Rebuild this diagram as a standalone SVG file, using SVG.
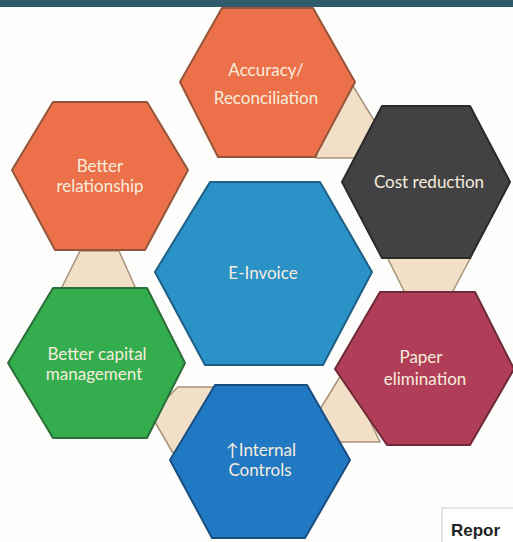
<svg xmlns="http://www.w3.org/2000/svg" width="513" height="542" viewBox="0 0 513 542">
<style>
.bg{fill:#fdfdfb}
.hex{stroke-width:2;stroke-linejoin:round}
.orange{fill:#ec714a;stroke:#95553a}
.gray{fill:#424244;stroke:#2a2a2a}
.cblue{fill:#2b92c8;stroke:#1d5f86}
.green{fill:#34ad4f;stroke:#2b6e3a}
.maroon{fill:#b03e58;stroke:#6e2a38}
.blue{fill:#2179c4;stroke:#194f80}
.conn{fill:#f1dfc7;stroke:#a8927a;stroke-width:1.5;stroke-linejoin:round}
.lbl{font-family:Lato,"Open Sans","Liberation Sans",sans-serif;font-size:17px;fill:#f6eddc;text-anchor:middle}
.rep{font-family:"Liberation Sans",Arial,sans-serif;font-size:17px;font-weight:bold;fill:#222}
</style>
<rect class="bg" x="0" y="0" width="513" height="542"/>
<rect x="0" y="0" width="513" height="7" fill="#2f5c6d"/>
<g id="connectors">
<polygon class="conn" points="330,100 353,86 375,122 356,158 316,158"/>
<polygon class="conn" points="386,255 472,255 452,293 405,293"/>
<polygon class="conn" points="341,375 319,411 338,442 380,442 360,400"/>
<polygon class="conn" points="178,387 220,387 190,440 173,453 155,422 165,400"/>
<polygon class="conn" points="80,251 119,251 136,289 61,289"/>
</g>
<g id="accuracy">
<polygon class="hex orange" points="222,8 313,8 355,82 315,157 218,157 180,82"/>
<text class="lbl" x="266" y="76">Accuracy/</text>
<text class="lbl" x="266" y="104">Reconciliation</text>
</g>
<g id="cost">
<polygon class="hex gray" points="382,106 470,106 510,182 470,258 382,258 342,182"/>
<text class="lbl" x="429" y="188">Cost reduction</text>
</g>
<g id="relationship">
<polygon class="hex orange" points="53,102 147,102 188,170 145,250 55,250 12,170"/>
<text class="lbl" x="100" y="172">Better</text>
<text class="lbl" x="100" y="192">relationship</text>
</g>
<g id="einvoice">
<polygon class="hex cblue" points="210,182 320,182 372,272 323,365 205,365 155,272"/>
<text class="lbl" x="263" y="279">E-Invoice</text>
</g>
<g id="capital">
<polygon class="hex green" points="53,288 147,288 185,363 147,438 53,438 8,363"/>
<text class="lbl" x="97" y="360">Better capital</text>
<text class="lbl" x="94" y="380">management</text>
</g>
<g id="paper">
<polygon class="hex maroon" points="380,292 475,292 514,369 470,445 387,445 335,369"/>
<text class="lbl" x="421" y="363">Paper</text>
<text class="lbl" x="425" y="385">elimination</text>
</g>
<g id="internal">
<polygon class="hex blue" points="215,385 307,385 350,460 305,538 212,538 170,460"/>
<text class="lbl" x="261" y="456">↑Internal</text>
<text class="lbl" x="260" y="476">Controls</text>
</g>
<g id="report">
<rect x="442" y="508" width="80" height="40" fill="#ffffff" stroke="#cfcfcf" stroke-width="1"/>
<text class="rep" x="451" y="536">Repor</text>
</g>
</svg>
